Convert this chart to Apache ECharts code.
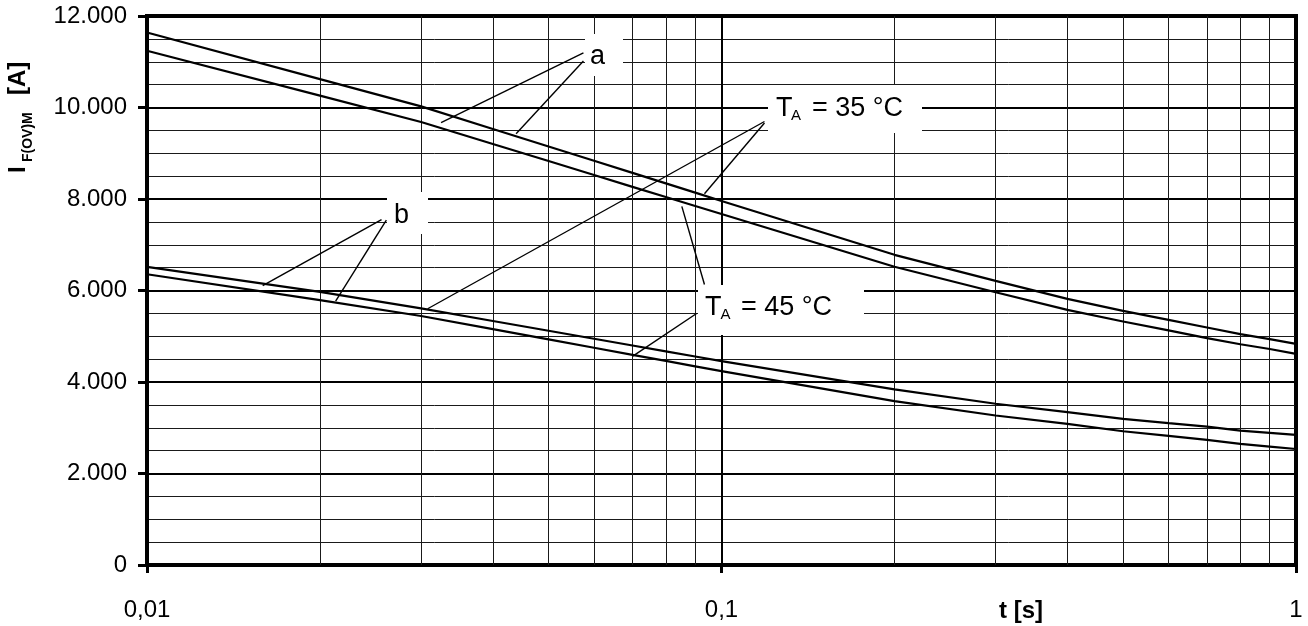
<!DOCTYPE html>
<html>
<head>
<meta charset="utf-8">
<script src="https://cdn.jsdelivr.net/npm/echarts@6.0.0/dist/echarts.min.js"></script>
<style>
  html, body { margin: 0; padding: 0; background: #fff; }
  #chart { width: 1308px; height: 626px; }
</style>
</head>
<body>
<div id="chart"></div>
<script>
var dom = document.getElementById("chart");
var myChart = echarts.init(dom);

// time axis points [s]
var tValues = [0.01, 0.02, 0.03, 0.04, 0.05, 0.06, 0.07, 0.08, 0.09, 0.1, 0.2, 0.3, 0.4, 0.5, 0.6, 0.7, 0.8, 0.9, 1];

// curve a (upper pair)
var a35 = [11640, 10620, 10025, 9531, 9148, 8835, 8570, 8341, 8139, 7957, 6780, 6210, 5817, 5555, 5358, 5191, 5045, 4936, 4834];
var a45 = [11240, 10260, 9683, 9202, 8829, 8524, 8266, 8043, 7847, 7672, 6520, 5962, 5576, 5322, 5128, 4958, 4825, 4722, 4616];
// curve b (lower pair)
var b35 = [6515, 5971, 5609, 5334, 5120, 4945, 4798, 4670, 4557, 4456, 3839, 3524, 3341, 3195, 3100, 3026, 2939, 2888, 2843];
var b45 = [6355, 5790, 5442, 5154, 4931, 4749, 4594, 4460, 4343, 4237, 3583, 3268, 3085, 2924, 2821, 2734, 2646, 2588, 2536];

var xTickValues = [0.01, 0.1, 1];
var xTickLabels = ['0,01', '0,1', '1'];
var yTickLabels = ['0', '2.000', '4.000', '6.000', '8.000', '10.000', '12.000'];
var xMinor = [0.02, 0.03, 0.04, 0.05, 0.06, 0.07, 0.08, 0.09, 0.2, 0.3, 0.4, 0.5, 0.6, 0.7, 0.8, 0.9];

// leader lines of the annotations, in data coordinates
var leaders = [
    [[0.0575, 11193], [0.0325, 9672]],
    [[0.0575, 11018], [0.0439, 9425]],
    [[0.0256, 7549], [0.0159, 6109]],
    [[0.0261, 7538], [0.0213, 5767]],
    [[0.1188, 9694], [0.0308, 5601]],
    [[0.1188, 9660], [0.0934, 8116]],
    [[0.0853, 7840], [0.0934, 6131]],
    [[0.0905, 5498], [0.0701, 4567]]
];

var FONT = '"Liberation Sans", Arial, Helvetica, sans-serif';

function pairs(ys) {
    return tValues.map(function (t, i) { return [t, ys[i]]; });
}

function curve(name, ys) {
    return {
        name: name,
        type: 'line',
        data: pairs(ys),
        symbol: 'none',
        silent: true,
        z: 5,
        lineStyle: { color: '#000', width: 2.2 }
    };
}

var series = [
    curve('a 35', a35),
    curve('a 45', a45),
    curve('b 35', b35),
    curve('b 45', b45)
];

// minor vertical grid lines of the log axis
series[0].markLine = {
    symbol: ['none', 'none'],
    silent: true,
    label: { show: false },
    z: 1,
    lineStyle: { color: '#1a1a1a', width: 1, type: 'solid' },
    data: xMinor.map(function (v) { return { xAxis: v }; })
};

leaders.forEach(function (seg) {
    series.push({
        type: 'line',
        data: seg,
        symbol: 'none',
        silent: true,
        z: 6,
        lineStyle: { color: '#000', width: 1.4 }
    });
});

function box(x, y, w, h) {
    return { type: 'rect', z: 50, shape: { x: x, y: y, width: w, height: h }, style: { fill: '#fff' } };
}

function txt(x, y, s, size, bold, align, rot) {
    return {
        type: 'text', z: 60, x: x, y: y, rotation: rot || 0,
        style: {
            text: s, fill: '#000',
            font: (bold ? 'bold ' : '') + size + 'px ' + FONT,
            align: align || 'left', verticalAlign: 'middle'
        }
    };
}

var graphics = [
    box(585, 34, 38, 42),
    txt(597.5, 57, 'a', 27, false, 'center'),
    box(387, 192, 41, 42),
    txt(401.5, 216, 'b', 27, false, 'center'),
    box(768, 85, 154, 48),
    txt(776, 109, 'T', 27),
    txt(791, 115.5, 'A', 15),
    txt(812, 109, '= 35 °C', 27),
    box(698, 285, 166, 50),
    txt(705, 308, 'T', 27),
    txt(720.5, 314.5, 'A', 15),
    txt(741, 308, '= 45 °C', 27),
    // axis titles
    txt(1021, 611, 't [s]', 24, true, 'center'),
    txt(18.5, 173, 'I', 24, true, 'left', Math.PI / 2),
    txt(28.5, 162, 'F(OV)M', 14, true, 'left', Math.PI / 2),
    txt(18.5, 95, '[A]', 24, true, 'left', Math.PI / 2)
];

var option = {
    animation: false,
    backgroundColor: '#fff',
    grid: {
        left: 147, right: 12, top: 16, bottom: 61,
        show: true, borderColor: '#000', borderWidth: 4,
        outerBoundsMode: 'none'
    },
    xAxis: {
        type: 'log',
        logBase: 10,
        min: 0.01,
        max: 1,
        axisLine: { show: true, lineStyle: { color: '#000', width: 4 } },
        axisTick: { show: true, length: 8, lineStyle: { color: '#000', width: 3 } },
        axisLabel: {
            color: '#000', fontSize: 24, fontFamily: FONT, margin: 45, verticalAlign: 'middle',
            showMinLabel: true, showMaxLabel: true,
            formatter: function (v) {
                for (var i = 0; i < xTickValues.length; i++) {
                    if (Math.abs(Math.log10(xTickValues[i]) - Math.log10(v)) < 1e-6) return xTickLabels[i];
                }
                return '';
            }
        },
        splitLine: { show: true, lineStyle: { color: '#000', width: 2 } },
        minorTick: { show: false },
        minorSplitLine: { show: false }
    },
    yAxis: {
        type: 'value',
        min: 0,
        max: 12000,
        interval: 2000,
        axisLine: { show: true, lineStyle: { color: '#000', width: 4 } },
        axisTick: { show: true, length: 9, lineStyle: { color: '#000', width: 3 } },
        axisLabel: {
            color: '#000', fontSize: 24, fontFamily: FONT, margin: 20,
            formatter: function (v) { return yTickLabels[Math.round(v / 2000)]; }
        },
        splitLine: { show: true, lineStyle: { color: '#000', width: 2 } },
        minorTick: { show: false, splitNumber: 4 },
        minorSplitLine: { show: true, lineStyle: { color: '#1a1a1a', width: 1 } }
    },
    series: series,
    graphic: graphics
};

if (option && typeof option === 'object') {
    myChart.setOption(option);
}
</script>
</body>
</html>
